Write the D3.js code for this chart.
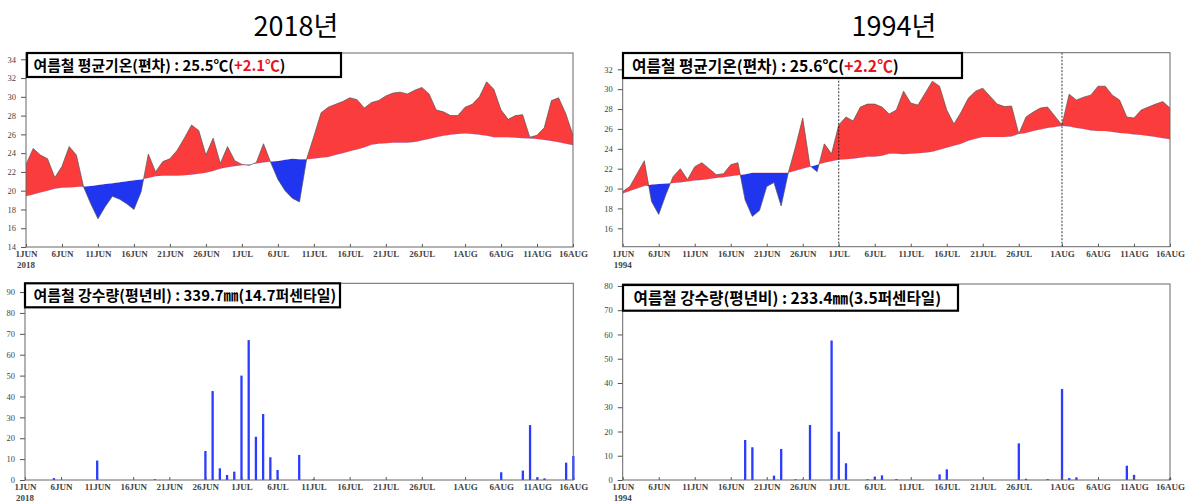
<!DOCTYPE html>
<html><head><meta charset="utf-8">
<script src="https://cdn.jsdelivr.net/npm/d3@7"></script>
<style>body{margin:0;background:#fff}svg{display:block}</style>
</head><body>
<svg id="c" width="1186" height="503"></svg>
<script>
// ---------- data ----------
const tickDays   = [0,5,10,15,20,25,30,35,40,45,50,55,61,66,71,76];
const tickLabels = ["1JUN","6JUN","11JUN","16JUN","21JUN","26JUN","1JUL","6JUL","11JUL","16JUL","21JUL","26JUL","1AUG","6AUG","11AUG","16AUG"];

const temp2018 = [22.8,24.5,23.8,23.4,21.4,22.6,24.7,23.8,20.4,18.6,17.0,18.3,19.4,19.1,18.6,18.0,19.9,23.9,22.0,23.1,
  23.4,24.3,25.6,27.0,26.4,23.8,25.6,22.9,24.7,23.2,22.8,22.7,23.0,25.0,23.0,21.2,20.0,19.2,18.8,23.4,
  25.8,28.3,28.9,29.2,29.5,29.9,29.7,28.8,29.4,29.6,30.1,30.4,30.5,30.3,30.7,31.0,30.3,28.6,28.4,28.0,
  28.0,28.9,29.2,30.0,31.6,30.8,28.6,27.6,28.0,28.1,25.7,25.9,26.7,29.6,29.9,28.2,25.9];
const norm2018 = [19.4,19.6,19.8,20.0,20.2,20.3,20.35,20.4,20.45,20.5,20.6,20.7,20.8,20.9,21.0,21.1,21.2,21.35,21.55,21.6,
  21.6,21.6,21.65,21.7,21.8,21.9,22.1,22.35,22.5,22.6,22.7,22.8,22.9,23.0,23.1,23.15,23.3,23.4,23.35,23.35,
  23.4,23.5,23.6,23.8,24.0,24.2,24.4,24.6,24.9,25.0,25.05,25.1,25.1,25.1,25.2,25.35,25.5,25.7,25.85,25.95,
  26.05,26.1,26.05,25.95,25.85,25.7,25.7,25.7,25.65,25.6,25.55,25.5,25.4,25.3,25.15,25.0,24.85];

const temp1994 = [19.7,20.2,21.5,22.8,18.7,17.4,19.4,21.2,22.0,20.9,22.2,22.6,22.0,21.4,21.5,22.4,22.6,18.85,17.2,17.8,
  20.2,20.6,18.25,21.6,24.2,27.1,22.3,21.7,24.5,23.5,26.4,27.2,26.8,28.2,28.5,28.5,28.2,27.5,27.9,29.8,
  28.6,28.4,29.6,30.8,30.3,27.9,26.5,27.7,29.1,29.8,30.1,29.3,28.5,28.25,28.3,25.5,27.2,27.7,28.1,28.2,
  27.3,26.4,29.5,28.9,29.2,29.4,30.3,30.3,29.4,28.9,27.2,27.1,27.9,28.2,28.5,28.75,28.1];
const norm1994 = [19.5,19.75,20.0,20.25,20.4,20.45,20.5,20.55,20.6,20.7,20.8,20.85,20.95,21.05,21.15,21.25,21.35,21.45,21.6,21.6,
  21.6,21.6,21.6,21.6,21.8,22.0,22.2,22.4,22.6,22.75,22.9,22.95,23.0,23.1,23.2,23.2,23.3,23.5,23.5,23.45,
  23.5,23.55,23.6,23.7,23.9,24.1,24.3,24.5,24.8,25.0,25.2,25.2,25.2,25.2,25.25,25.5,25.6,25.8,25.95,26.1,
  26.2,26.3,26.25,26.1,26.0,25.85,25.8,25.8,25.7,25.6,25.55,25.45,25.4,25.3,25.2,25.05,24.95];

const rain2018Days = [4,10,18,25,26,27,28,29,30,31,32,33,34,35,38,40,66,69,70,71,72,75,76];
const rain2018Vals = [0.9,9.3,0.4,13.9,42.6,5.6,2.4,4.0,50.0,67.0,20.7,31.6,10.9,4.8,12.0,0.4,3.7,4.5,26.3,1.3,0.8,8.3,11.5];
const rain1994Days = [17,18,21,22,24,25,26,29,30,31,34,35,36,38,44,45,55,56,59,61,62,63,70,71,76];
const rain1994Vals = [16.5,13.5,1.8,12.8,0.3,0.2,22.7,57.5,19.9,6.9,0.3,1.4,1.9,0.4,2.3,4.4,15.1,0.5,0.4,37.5,0.8,1.1,5.9,2.1,0.7];

const tempYTicks2018 = [14,16,18,20,22,24,26,28,30,32,34];
const tempYTicks1994 = [16,18,20,22,24,26,28,30,32];
const rainYTicks2018 = [0,10,20,30,40,50,60,70,80,90];
const rainYTicks1994 = [0,10,20,30,40,50,60,70,80];

// ---------- drawing ----------
const svg = d3.select("#c");
const RED = "#fb3c3c", BLUE = "#1f35f0", BAR = "#2a3cff";
const tickFont = "'Liberation Serif', serif";

function axes(g, x, y, P, yTicks, year){
  const ya = g.append("g").attr("transform",`translate(${P.L},0)`)
    .call(d3.axisLeft(y).tickValues(yTicks).tickSize(5).tickPadding(5).tickFormat(d3.format("d")));
  ya.select(".domain").remove();
  ya.selectAll("line").attr("stroke","#555");
  ya.selectAll("text").attr("font-family",tickFont).attr("font-size",8.5).attr("fill","#444");
  const xa = g.append("g").attr("transform",`translate(0,${P.B})`)
    .call(d3.axisBottom(x).tickValues(tickDays).tickFormat((d,i)=>tickLabels[i]).tickSize(-3).tickPadding(4));
  xa.select(".domain").remove();
  xa.selectAll("line").attr("stroke","#555");
  xa.selectAll("text").attr("font-family",tickFont).attr("font-size",9).attr("font-weight","bold").attr("fill","#444");
  g.append("text").attr("x",x(0)).attr("y",P.B+21).attr("text-anchor","middle")
    .attr("font-family",tickFont).attr("font-size",9).attr("font-weight","bold").attr("fill","#444").text(year);
  g.append("rect").attr("x",P.L).attr("y",P.T).attr("width",P.R-P.L).attr("height",P.B-P.T)
    .attr("fill","none").attr("stroke","#666").attr("stroke-width",1);
}

function titleBox(g, B, parts){
  g.append("rect").attr("x",B.x).attr("y",B.y).attr("width",B.w).attr("height",B.h)
    .attr("fill","#fff").attr("stroke","#000").attr("stroke-width",2.2);
  const t = g.append("text").attr("x",B.tx).attr("y",B.ty)
    .attr("font-family","'Noto Sans CJK KR', sans-serif").attr("font-weight","bold").attr("font-size",15);
  parts.forEach(p=>t.append("tspan").attr("fill",p[1]).text(p[0]));
  const w = t.node().getComputedTextLength();
  if (w>0) t.attr("font-size", 15*B.tw/w);
}

function tempPanel(id, P, temp, norm, yTicks, year, dashDays, box, parts){
  const g = svg.append("g");
  const x = d3.scaleLinear().domain([0,76]).range([P.L,P.R]);
  const y = d3.scaleLinear().domain(P.yd).range([P.B,P.T]);
  const idx = d3.range(temp.length);
  const defs = g.append("defs");
  defs.append("clipPath").attr("id",id+"a").append("path")
    .attr("d", d3.area().x(i=>x(i)).y0(P.T).y1(i=>y(norm[i]))(idx));
  defs.append("clipPath").attr("id",id+"b").append("path")
    .attr("d", d3.area().x(i=>x(i)).y0(i=>y(norm[i])).y1(P.B)(idx));
  const ar = d3.area().x(i=>x(i)).y0(i=>y(norm[i])).y1(i=>y(temp[i]));
  g.append("path").attr("d",ar(idx)).attr("fill",RED).attr("clip-path",`url(#${id}a)`);
  g.append("path").attr("d",ar(idx)).attr("fill",BLUE).attr("clip-path",`url(#${id}b)`);
  g.append("path").attr("d",d3.line().x(i=>x(i)).y(i=>y(temp[i]))(idx))
    .attr("fill","none").attr("stroke","#555").attr("stroke-width",0.7);
  dashDays.forEach(d=>g.append("line").attr("x1",x(d)).attr("x2",x(d)).attr("y1",P.T).attr("y2",P.B)
    .attr("stroke","#000").attr("stroke-width",0.8).attr("stroke-dasharray","2,1.5"));
  axes(g,x,y,P,yTicks,year);
  titleBox(g, box, parts);
}

function rainPanel(P, days, vals, yTicks, year, box, parts){
  const g = svg.append("g");
  const x = d3.scaleLinear().domain([0,76]).range([P.L,P.R]);
  const y = d3.scaleLinear().domain(P.yd).range([P.B,P.T]);
  g.selectAll("rect.bar").data(days).join("rect").attr("class","bar")
    .attr("x",(d)=>x(d)-1.1).attr("width",2.3)
    .attr("y",(d,i)=>y(vals[i])).attr("height",(d,i)=>P.B-y(vals[i])).attr("fill",BAR);
  axes(g,x,y,P,yTicks,year);
  titleBox(g, box, parts);
}

// main titles
svg.append("text").attr("x",296).attr("y",36).attr("text-anchor","middle")
  .attr("font-family","'Noto Sans CJK KR', sans-serif").attr("font-size",27).text("2018년");
svg.append("text").attr("x",894).attr("y",36).attr("text-anchor","middle")
  .attr("font-family","'Noto Sans CJK KR', sans-serif").attr("font-size",27).text("1994년");

tempPanel("t18",{L:26,R:573,T:53,B:247,yd:[14,34.67]}, temp2018, norm2018, tempYTicks2018, "2018", [],
  {x:27,y:53,w:314,h:24,tx:33.5,ty:70.5,tw:252},
  [["여름철 평균기온(편차) : 25.5℃(","#000"],["+2.1℃","#e8141e"],[")","#000"]]);
tempPanel("t94",{L:622.7,R:1170,T:52.7,B:246.7,yd:[14.15,33.67]}, temp1994, norm1994, tempYTicks1994, "1994", [30,61],
  {x:623,y:53,w:339,h:25,tx:632,ty:72,tw:267},
  [["여름철 평균기온(편차) : 25.6℃(","#000"],["+2.2℃","#e8141e"],[")","#000"]]);
rainPanel({L:25,R:573.3,T:283.3,B:480,yd:[0,94.2]}, rain2018Days, rain2018Vals, rainYTicks2018, "2018",
  {x:25,y:283.3,w:315,h:24,tx:33.5,ty:301,tw:303},
  [["여름철 강수량(평년비) : 339.7㎜(14.7퍼센타일)","#000"]]);
rainPanel({L:622.7,R:1170,T:284,B:480,yd:[0,80.8]}, rain1994Days, rain1994Vals, rainYTicks1994, "1994",
  {x:623,y:285,w:335,h:25.7,tx:633.5,ty:304,tw:308},
  [["여름철 강수량(평년비) : 233.4㎜(3.5퍼센타일)","#000"]]);
</script>
</body></html>
